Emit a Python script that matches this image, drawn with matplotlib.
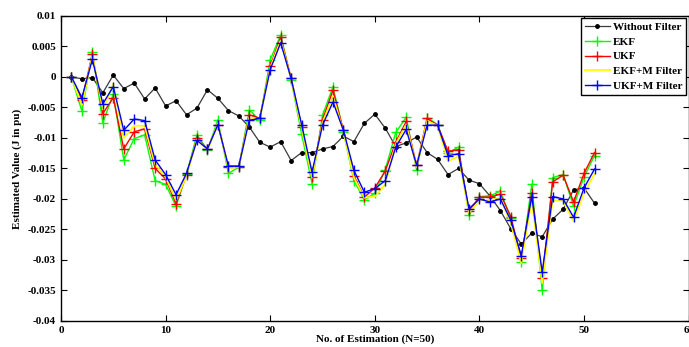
import numpy as np
import matplotlib.pyplot as plt

plt.rcParams['font.family'] = ['Liberation Serif', 'DejaVu Serif']
plt.rcParams['font.weight'] = 'bold'

# estimation index
n_est = list(range(1, 52))

# values, in units of 1e-3 pu
without_filter = [0, -0.3, -0.1, -2.6, 0.3, -1.9, -1.0, -3.6, -1.8, -4.75,
                  -3.9, -6.2, -5.1, -2.1, -3.5, -5.5, -6.4, -8.2, -10.7, -11.5,
                  -10.6, -13.7, -12.4, -12.4, -11.8, -11.4, -9.7, -10.6, -7.6, -6.1,
                  -8.4, -11.4, -10.8, -9.85, -12.4, -13.5, -16.0, -15.0, -16.9, -17.5,
                  -19.5, -21.9, -24.9, -27.4, -25.6, -26.2, -23.3, -21.7, -18.5, -18.2,
                  -20.7]
ekf = [0, -5.6, 4.1, -7.5, -2.8, -13.6, -10.1, -9.5, -17.0, -17.6,
       -21.2, -15.9, -9.5, -12.0, -7.0, -15.8, -14.8, -5.4, -7.1, 2.8,
       6.9, -0.5, -9.3, -17.5, -6.3, -1.6, -9.0, -17.0, -20.1, -19.1,
       -15.2, -9.1, -6.6, -15.3, -6.7, -7.8, -12.4, -11.5, -22.7, -19.6,
       -19.5, -18.7, -23.2, -30.3, -17.6, -35.0, -16.5, -16.0, -21.2, -16.4,
       -12.9]
ukf = [0, -3.8, 3.75, -6.0, -3.4, -11.8, -9.0, -8.5, -15.0, -16.7,
       -20.8, -16.0, -10.0, -11.8, -7.8, -14.7, -14.7, -6.2, -6.75, 1.8,
       6.5, -0.15, -8.2, -16.4, -7.0, -2.2, -8.75, -16.2, -19.7, -18.2,
       -15.4, -10.7, -7.3, -14.5, -6.8, -7.9, -12.2, -11.9, -22.0, -19.7,
       -19.7, -19.2, -22.9, -29.7, -19.0, -33.0, -17.2, -16.1, -20.5, -15.8,
       -12.4]
ekf_m = [0, -4.6, 3.5, -5.3, -1.1, -10.0, -8.0, -8.0, -14.3, -16.4,
         -20.2, -16.2, -10.2, -12.0, -7.6, -14.9, -14.8, -6.6, -7.0, 1.5,
         6.0, -0.4, -8.3, -16.5, -7.5, -3.2, -9.0, -16.5, -19.8, -19.6,
         -17.6, -11.0, -7.8, -14.8, -7.2, -8.0, -13.8, -13.0, -22.3, -20.2,
         -20.2, -19.8, -24.0, -30.5, -20.2, -33.8, -20.2, -20.3, -23.6, -19.0,
         -15.9]
ukf_m = [0, -3.4, 2.9, -4.4, -1.6, -8.75, -6.9, -7.15, -13.6, -16.0,
         -19.3, -15.8, -10.4, -11.8, -7.8, -14.6, -14.6, -7.1, -6.8, 1.2,
         5.6, -0.25, -7.8, -15.6, -7.9, -4.1, -8.75, -15.3, -18.9, -18.3,
         -17.0, -11.5, -8.6, -14.5, -7.9, -7.9, -12.9, -12.6, -21.6, -20.0,
         -20.5, -20.0, -23.5, -29.3, -19.6, -32.0, -19.6, -20.0, -23.0, -18.2,
         -15.1]

y_ticks = [0.01, 0.005, 0, -0.005, -0.01, -0.015, -0.02, -0.025, -0.03, -0.035, -0.04]
y_tick_labels = ['0.01', '0.005', '0', '-0.005', '-0.01', '-0.015', '-0.02',
                 '-0.025', '-0.03', '-0.035', '-0.04']

x = np.array(n_est)
scale = 1e-3

fig = plt.figure(figsize=(6.89, 3.47), dpi=100)
ax = fig.add_axes([0.0885, 0.075, 0.911, 0.879])

ax.plot(x, np.array(without_filter) * scale, color='#3a3a3a', lw=0.9,
        marker='.', ms=5, mfc='black', mec='black', label='Without Filter')
ax.plot(x, np.array(ekf) * scale, color='#00ff00', lw=1,
        marker='+', ms=6.5, label='EKF')
ax.plot(x, np.array(ukf) * scale, color='#ff0000', lw=1,
        marker='+', ms=6.5, label='UKF')
ax.plot(x, np.array(ekf_m) * scale, color='#ffff00', lw=1.3,
        label='EKF+M Filter')
ax.plot(x, np.array(ukf_m) * scale, color='#0000ff', lw=1,
        marker='+', ms=6.5, label='UKF+M Filter')

ax.set_xlim(0, 60)
ax.set_ylim(-0.04, 0.01)
ax.set_xticks(range(0, 61, 10))
ax.set_yticks(y_ticks)
ax.set_yticklabels(y_tick_labels)
ax.tick_params(direction='in', top=True, right=True, labelsize=8, length=4)
for s in ax.spines.values():
    s.set_linewidth(1)

ax.set_xlabel('No. of Estimation (N=50)', fontsize=8, fontweight='bold', labelpad=0)
ax.set_ylabel('Estimated Value (J in pu)', fontsize=8, fontweight='bold', labelpad=4)

leg = ax.legend(loc='upper right', fontsize=8, frameon=True, fancybox=False,
                edgecolor='black', framealpha=1, borderaxespad=0.2,
                handlelength=2.2, labelspacing=0.45, borderpad=0.35,
                handletextpad=0.3)
leg.get_frame().set_linewidth(1)

fig.savefig('out.png', dpi=100)
